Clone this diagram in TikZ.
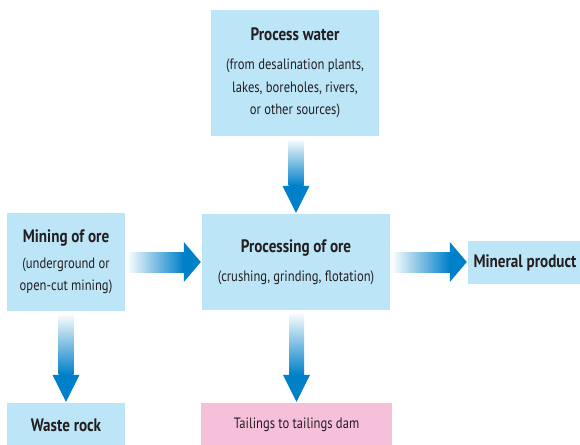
\documentclass[tikz,border=0pt]{standalone}
\usepackage{fontspec}
\setmainfont{PT Sans}[FakeStretch=0.84]
\usetikzlibrary{calc}
\definecolor{boxblue}{RGB}{189,229,248}
\definecolor{boxpink}{RGB}{246,192,218}
\definecolor{flowblue}{RGB}{0,128,200}
\definecolor{ink}{RGB}{35,31,32}
\tikzset{
  box/.style={fill=boxblue, inner sep=0pt, align=center, text=ink,
    font=\fontsize{15}{22.5}\selectfont},
  head/.style={font=\fontsize{18}{20}\selectfont\bfseries}
}
% shaded flow arrows between two boxes
\newcommand{\flowdown}[2]{%
  \shade[top color=white, middle color=flowblue!55, bottom color=flowblue]
    ($(#2.north |- #1.south)+(-7.5,2)$) rectangle ($(#2.north)+(7.5,-28)$);
  \fill[flowblue] ($(#2.north)+(-13.5,-28)$) -- ($(#2.north)+(13.5,-28)$)
    -- ($(#2.north)+(0,-1)$) -- cycle;
}
\newcommand{\flowright}[2]{%
  \shade[left color=white, middle color=flowblue!55, right color=flowblue]
    ($(#1.east)+(1,-10)$) rectangle ($(#2.west |- #1.east)+(-18,10)$);
  \fill[flowblue] ($(#2.west |- #1.east)+(-18,-20)$) -- ($(#2.west |- #1.east)+(-18,20)$)
    -- ($(#2.west |- #1.east)+(-1,0)$) -- cycle;
}
\begin{document}
\begin{tikzpicture}[x=1pt, y=-1pt]
\useasboundingbox (0,0) rectangle (580,444);
\clip (0,0) rectangle (580,444);

\node[box, minimum width=168pt, minimum height=126pt] (water) at (295,73)
  {\textbf{\fontsize{18}{20}\selectfont Process water}\\[7pt]
   (from desalination plants,\\ lakes, boreholes, rivers,\\ or other sources)};
\node[box, minimum width=118pt, minimum height=98pt] (mining) at (66,262)
  {\textbf{\fontsize{18}{20}\selectfont Mining of ore}\\[3pt]
   (underground or\\ open-cut mining)};
\node[box, minimum width=188pt, minimum height=96pt] (processing) at (296,262)
  {\textbf{\fontsize{18}{20}\selectfont Processing of ore}\\[6pt]
   (crushing, grinding, flotation)};
\node[box, head, minimum width=114pt, minimum height=43pt] (product) at (525,262.5)
  {Mineral product};
\node[box, head, minimum width=118pt, minimum height=44pt] (waste) at (66,425)
  {Waste rock};
\node[box, fill=boxpink, minimum width=191pt, minimum height=44pt] (tailings) at (296.5,425)
  {Tailings to tailings dam};

\flowdown{water}{processing}
\flowright{mining}{processing}
\flowright{processing}{product}
\flowdown{mining}{waste}
\flowdown{processing}{tailings}

\end{tikzpicture}
\end{document}
